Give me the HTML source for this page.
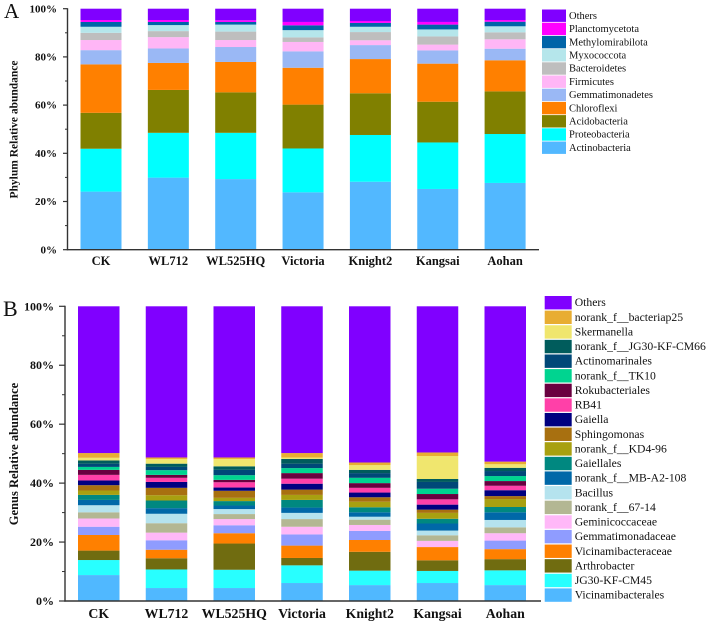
<!DOCTYPE html>
<html>
<head>
<meta charset="utf-8">
<style>
html,body{margin:0;padding:0;background:#fff;}
svg{display:block;}
text{font-family:"Liberation Serif",serif;fill:#111;}
</style>
</head>
<body>
<svg id="figure" width="708" height="623" viewBox="0 0 708 623" xmlns="http://www.w3.org/2000/svg">
<rect width="708" height="623" fill="#fff"/>
<text x="4" y="18" font-size="21">A</text>
<text x="3" y="316" font-size="22">B</text>
<text transform="translate(17.5,129.5) rotate(-90)" text-anchor="middle" font-size="11.5" font-weight="bold">Phylum Relative abundance</text>
<text transform="translate(18,454) rotate(-90)" text-anchor="middle" font-size="12.5" font-weight="bold">Genus Relative abundance</text>
</svg>
<script>
const sampleNames = ["CK","WL712","WL525HQ","Victoria","Knight2","Kangsai","Aohan"];
const yTickLabels = ["0%","20%","40%","60%","80%","100%"];
const yTickValues = [0,20,40,60,80,100];
const yMinorValues = [10,30,50,70,90];

const phylumNames = ["Actinobacteria","Proteobacteria","Acidobacteria","Chloroflexi","Gemmatimonadetes","Firmicutes","Bacteroidetes","Myxococcota","Methylomirabilota","Planctomycetota","Others"];
const phylumColors = ["#52b8ff","#00ffff","#808000","#ff8000","#9ab8f5","#ffb6f6","#bebebe","#b5e6eb","#0064a8","#ff00ff","#8000ff"];
const phylumCK = [24.1,17.8,14.9,20.1,5.9,4.2,3.0,2.5,2.0,0.8,4.7];
const phylumWL712 = [29.9,18.6,17.8,11.2,6.0,4.7,2.5,2.5,1.3,0.8,4.7];
const phylumWL525HQ = [29.3,19.2,16.8,12.6,6.2,2.9,3.5,2.9,1.1,0.7,4.8];
const phylumVictoria = [23.8,18.2,18.2,15.3,6.8,3.9,1.9,3.0,2.0,1.4,5.5];
const phylumKnight2 = [28.2,19.4,17.3,14.2,5.8,2.0,3.4,2.2,1.6,0.8,5.1];
const phylumKangsai = [25.2,19.3,16.9,15.8,5.5,2.4,3.4,2.9,2.0,1.1,5.5];
const phylumAohan = [27.7,20.3,17.7,12.9,4.8,3.9,2.9,2.5,1.9,0.7,4.7];

const genusNames = ["Vicinamibacterales","JG30-KF-CM45","Arthrobacter","Vicinamibacteraceae","Gemmatimonadaceae","Geminicoccaceae","norank_f__67-14","Bacillus","norank_f__MB-A2-108","Gaiellales","norank_f__KD4-96","Sphingomonas","Gaiella","RB41","Rokubacteriales","norank_f__TK10","Actinomarinales","norank_f__JG30-KF-CM66","Skermanella","norank_f__bacteriap25","Others"];
const genusColors = ["#50b8ff","#28ffff","#706c10","#ff8000","#8f9cff","#ffb8f8","#b3b793","#b5e3ee","#0068a8","#008880","#a8a010","#a87010","#000080","#ff40a8","#6a0040","#00d490","#004878","#005c5c","#f0e66e","#e8ad32","#8000ff"];
const genusCK = [8.8,5.1,3.2,5.3,2.8,2.8,2.1,2.4,1.8,1.7,1.5,1.8,1.6,1.9,1.7,1.0,1.1,1.1,0.9,1.6,49.8];
const genusWL712 = [4.4,6.3,3.8,2.9,3.2,2.6,3.2,3.2,1.9,2.6,1.8,2.5,2.0,1.4,1.0,1.6,1.1,1.1,1.6,0.5,51.3];
const genusWL525HQ = [4.4,6.2,8.9,3.5,2.7,2.1,1.7,1.7,1.2,1.5,1.1,2.4,1.1,1.8,0.8,1.6,1.8,1.2,2.5,0.5,51.3];
const genusVictoria = [6.1,6.0,2.5,4.2,3.8,2.6,2.6,2.1,1.8,2.6,1.7,1.8,2.0,1.7,1.9,1.7,1.5,1.6,0.5,1.5,49.8];
const genusKnight2 = [5.4,4.9,6.4,4.0,3.1,2.0,1.8,1.0,1.5,1.7,1.9,1.5,1.6,1.6,1.6,1.8,1.6,1.1,1.6,0.9,53.0];
const genusKangsai = [6.1,4.1,3.6,4.5,0.0,2.1,1.9,1.6,2.4,1.6,2.0,1.1,1.7,1.8,1.8,1.8,2.3,1.0,7.8,1.2,49.6];
const genusAohan = [5.4,5.0,3.8,3.4,2.9,2.5,2.0,2.5,2.6,1.8,2.7,1.0,2.0,1.5,1.6,1.7,1.7,1.1,1.2,0.9,52.7];

const phylumSamples = [phylumCK,phylumWL712,phylumWL525HQ,phylumVictoria,phylumKnight2,phylumKangsai,phylumAohan];
const genusSamples = [genusCK,genusWL712,genusWL525HQ,genusVictoria,genusKnight2,genusKangsai,genusAohan];

const svg = document.getElementById('figure');
const NS = 'http://www.w3.org/2000/svg';

function make(tag, attrs, parent) {
  const el = document.createElementNS(NS, tag);
  for (const k in attrs) el.setAttribute(k, attrs[k]);
  parent.appendChild(el);
  return el;
}

function drawPanel(samples, names, colors, g) {
  const yScale = v => g.bottom - v * (g.bottom - g.top) / 100;
  const xScale = i => g.firstBar + i * g.step;

  samples.forEach((values, i) => {
    let cum = 0;
    values.forEach((v, s) => {
      const y1 = yScale(cum);
      const y2 = yScale(Math.min(100, cum + v));
      cum += v;
      const seg = make('rect', {x: xScale(i), y: y2, width: g.barW, height: Math.max(0, y1 - y2), fill: colors[s]}, svg);
      
      
    });
    const label = make('text', {x: xScale(i) + g.barW / 2, y: g.xLabelY, 'text-anchor': 'middle', 'font-size': g.xFont, 'font-weight': 'bold'}, svg);
    
    
    label.textContent = sampleNames[i];
  });

  const yAxis = make('line', {x1: g.axisX, x2: g.axisX, y1: g.top - 0.5, y2: g.bottom + 0.6, stroke: '#333', 'stroke-width': 1.4}, svg);
  
  
  const xAxis = make('line', {x1: g.axisX - 0.7, x2: g.axisEnd, y1: g.bottom, y2: g.bottom, stroke: '#333', 'stroke-width': 1.4}, svg);
  
  

  yTickValues.forEach((v, i) => {
    const tick = make('line', {x1: g.axisX - g.major, x2: g.axisX, y1: yScale(v), y2: yScale(v), stroke: '#333', 'stroke-width': 1.2}, svg);
    
    
    const label = make('text', {x: g.yLabelX, y: yScale(v) + g.yFont * 0.33, 'text-anchor': 'end', 'font-size': g.yFont, 'font-weight': 'bold'}, svg);
    
    
    label.textContent = yTickLabels[i];
  });
  yMinorValues.forEach(v => {
    const tick = make('line', {x1: g.axisX - g.minor, x2: g.axisX, y1: yScale(v), y2: yScale(v), stroke: '#333', 'stroke-width': 1}, svg);
    
    
  });

  const count = names.length;
  for (let r = 0; r < count; r++) {
    const s = count - 1 - r;
    const cy = g.legTop + r * g.legStep;
    const swatch = make('rect', {x: g.legX, y: cy - g.swatchH / 2, width: g.swatchW, height: g.swatchH, fill: colors[s]}, svg);
    
    
    const label = make('text', {x: g.legTextX, y: cy + g.legFont * 0.3, 'font-size': g.legFont, fill: '#222'}, svg);
    
    
    label.textContent = names[s];
  }
}

drawPanel(phylumSamples, phylumNames, phylumColors, {
  top: 8.7, bottom: 249.7, firstBar: 80.5, step: 67.35, barW: 41, axisX: 67.5, axisEnd: 539,
  major: 4.5, minor: 2.5, yLabelX: 57, yFont: 11, xLabelY: 265, xFont: 12.5,
  legX: 542, legTextX: 569, legTop: 15.7, legStep: 13.2, swatchW: 24, swatchH: 12.4, legFont: 10.5
});
drawPanel(genusSamples, genusNames, genusColors, {
  top: 306.3, bottom: 601, firstBar: 78, step: 67.75, barW: 41.5, axisX: 65, axisEnd: 541,
  major: 6, minor: 3, yLabelX: 54, yFont: 12, xLabelY: 618, xFont: 13.8,
  legX: 544.7, legTextX: 574.7, legTop: 302.7, legStep: 14.62, swatchW: 27, swatchH: 13.4, legFont: 11.7
});
</script>
</body>
</html>
